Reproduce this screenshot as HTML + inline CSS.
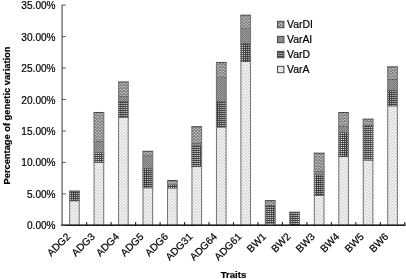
<!DOCTYPE html>
<html><head><meta charset="utf-8"><title>Chart</title>
<style>
html,body{margin:0;padding:0;background:#fff;}
svg{display:block;font-family:"Liberation Sans",sans-serif;}
.t{fill:#000;stroke:#000;stroke-width:0.2px;}
</style></head><body>
<svg width="406" height="279" viewBox="0 0 406 279">
<defs>
<pattern id="pA" width="3.2" height="3" patternUnits="userSpaceOnUse"><rect width="3.2" height="3" fill="#d2d2d2"/><ellipse cx="0.8" cy="0.75" rx="1.05" ry="0.65" fill="#fff"/><ellipse cx="2.4" cy="2.25" rx="1.05" ry="0.65" fill="#fff"/></pattern>
<pattern id="pD" width="2.15" height="2" patternUnits="userSpaceOnUse"><rect width="2.15" height="2" fill="#383838"/><rect x="1.0" y="0.9" width="1.1" height="1.05" fill="#f2f2f2"/></pattern>
<pattern id="pAI" width="2" height="2" patternUnits="userSpaceOnUse"><rect width="2" height="2" fill="#9c9c9c"/><rect x="0" y="0" width="1" height="1" fill="#767676"/><rect x="1" y="1" width="1" height="1" fill="#787878"/></pattern>
<pattern id="pDI" width="3.2" height="3" patternUnits="userSpaceOnUse"><rect width="3.2" height="3" fill="#787878"/><ellipse cx="0.8" cy="0.75" rx="1.0" ry="0.62" fill="#dcdcdc"/><ellipse cx="2.4" cy="2.25" rx="1.0" ry="0.62" fill="#dcdcdc"/></pattern>
</defs>
<rect width="406" height="279" fill="#fff"/>

<rect x="69.14" y="200.75" width="10.6" height="24.56" fill="url(#pA)"/>
<rect x="69.14" y="200.25" width="10.6" height="1" fill="#444"/>
<rect x="69.14" y="191.11" width="10.6" height="9.64" fill="url(#pD)"/>
<rect x="69.14" y="190.61" width="10.6" height="1" fill="#444"/>
<rect x="69.14" y="190.61" width="1" height="34.69" fill="#747474"/>
<rect x="78.73" y="190.61" width="1" height="34.69" fill="#747474"/>
<rect x="93.61" y="162.31" width="10.6" height="62.99" fill="url(#pA)"/>
<rect x="93.61" y="161.81" width="10.6" height="1" fill="#444"/>
<rect x="93.61" y="152.55" width="10.6" height="9.76" fill="url(#pD)"/>
<rect x="93.61" y="152.05" width="10.6" height="1" fill="#444"/>
<rect x="93.61" y="141.21" width="10.6" height="11.34" fill="url(#pAI)"/>
<rect x="93.61" y="140.71" width="10.6" height="1" fill="#444"/>
<rect x="93.61" y="112.48" width="10.6" height="28.73" fill="url(#pDI)"/>
<rect x="93.61" y="111.98" width="10.6" height="1" fill="#444"/>
<rect x="93.61" y="111.98" width="1" height="113.32" fill="#747474"/>
<rect x="103.20" y="111.98" width="1" height="113.32" fill="#747474"/>
<rect x="118.08" y="117.27" width="10.6" height="108.03" fill="url(#pA)"/>
<rect x="118.08" y="116.77" width="10.6" height="1" fill="#444"/>
<rect x="118.08" y="101.52" width="10.6" height="15.75" fill="url(#pD)"/>
<rect x="118.08" y="101.02" width="10.6" height="1" fill="#444"/>
<rect x="118.08" y="96.48" width="10.6" height="5.04" fill="url(#pAI)"/>
<rect x="118.08" y="95.98" width="10.6" height="1" fill="#444"/>
<rect x="118.08" y="81.99" width="10.6" height="14.49" fill="url(#pDI)"/>
<rect x="118.08" y="81.49" width="10.6" height="1" fill="#444"/>
<rect x="118.08" y="81.49" width="1" height="143.81" fill="#747474"/>
<rect x="127.68" y="81.49" width="1" height="143.81" fill="#747474"/>
<rect x="142.54" y="187.83" width="10.6" height="37.47" fill="url(#pA)"/>
<rect x="142.54" y="187.33" width="10.6" height="1" fill="#444"/>
<rect x="142.54" y="168.30" width="10.6" height="19.53" fill="url(#pD)"/>
<rect x="142.54" y="167.80" width="10.6" height="1" fill="#444"/>
<rect x="142.54" y="155.70" width="10.6" height="12.60" fill="url(#pAI)"/>
<rect x="142.54" y="155.20" width="10.6" height="1" fill="#444"/>
<rect x="142.54" y="151.29" width="10.6" height="4.41" fill="url(#pDI)"/>
<rect x="142.54" y="150.79" width="10.6" height="1" fill="#444"/>
<rect x="142.54" y="150.79" width="1" height="74.51" fill="#747474"/>
<rect x="152.14" y="150.79" width="1" height="74.51" fill="#747474"/>
<rect x="167.01" y="188.02" width="10.6" height="37.28" fill="url(#pA)"/>
<rect x="167.01" y="187.52" width="10.6" height="1" fill="#444"/>
<rect x="167.01" y="184.68" width="10.6" height="3.34" fill="url(#pD)"/>
<rect x="167.01" y="184.18" width="10.6" height="1" fill="#444"/>
<rect x="167.01" y="180.52" width="10.6" height="4.16" fill="url(#pDI)"/>
<rect x="167.01" y="180.02" width="10.6" height="1" fill="#444"/>
<rect x="167.01" y="180.02" width="1" height="45.28" fill="#747474"/>
<rect x="176.61" y="180.02" width="1" height="45.28" fill="#747474"/>
<rect x="191.48" y="166.41" width="10.6" height="58.89" fill="url(#pA)"/>
<rect x="191.48" y="165.91" width="10.6" height="1" fill="#444"/>
<rect x="191.48" y="145.62" width="10.6" height="20.79" fill="url(#pD)"/>
<rect x="191.48" y="145.12" width="10.6" height="1" fill="#444"/>
<rect x="191.48" y="143.10" width="10.6" height="2.52" fill="url(#pAI)"/>
<rect x="191.48" y="142.60" width="10.6" height="1" fill="#444"/>
<rect x="191.48" y="126.72" width="10.6" height="16.38" fill="url(#pDI)"/>
<rect x="191.48" y="126.22" width="10.6" height="1" fill="#444"/>
<rect x="191.48" y="126.22" width="1" height="99.08" fill="#747474"/>
<rect x="201.08" y="126.22" width="1" height="99.08" fill="#747474"/>
<rect x="215.95" y="127.03" width="10.6" height="98.27" fill="url(#pA)"/>
<rect x="215.95" y="126.53" width="10.6" height="1" fill="#444"/>
<rect x="215.95" y="100.89" width="10.6" height="26.14" fill="url(#pD)"/>
<rect x="215.95" y="100.39" width="10.6" height="1" fill="#444"/>
<rect x="215.95" y="77.58" width="10.6" height="23.31" fill="url(#pAI)"/>
<rect x="215.95" y="77.08" width="10.6" height="1" fill="#444"/>
<rect x="215.95" y="62.46" width="10.6" height="15.12" fill="url(#pDI)"/>
<rect x="215.95" y="61.96" width="10.6" height="1" fill="#444"/>
<rect x="215.95" y="61.96" width="1" height="163.34" fill="#747474"/>
<rect x="225.55" y="61.96" width="1" height="163.34" fill="#747474"/>
<rect x="240.42" y="61.52" width="10.6" height="163.78" fill="url(#pA)"/>
<rect x="240.42" y="61.02" width="10.6" height="1" fill="#444"/>
<rect x="240.42" y="42.93" width="10.6" height="18.59" fill="url(#pD)"/>
<rect x="240.42" y="42.43" width="10.6" height="1" fill="#444"/>
<rect x="240.42" y="27.81" width="10.6" height="15.12" fill="url(#pAI)"/>
<rect x="240.42" y="27.31" width="10.6" height="1" fill="#444"/>
<rect x="240.42" y="15.21" width="10.6" height="12.60" fill="url(#pDI)"/>
<rect x="240.42" y="14.71" width="10.6" height="1" fill="#444"/>
<rect x="240.42" y="14.71" width="1" height="210.59" fill="#747474"/>
<rect x="250.02" y="14.71" width="1" height="210.59" fill="#747474"/>
<rect x="264.89" y="223.11" width="10.6" height="2.19" fill="url(#pA)"/>
<rect x="264.89" y="222.61" width="10.6" height="1" fill="#444"/>
<rect x="264.89" y="205.47" width="10.6" height="17.64" fill="url(#pD)"/>
<rect x="264.89" y="204.97" width="10.6" height="1" fill="#444"/>
<rect x="264.89" y="200.62" width="10.6" height="4.85" fill="url(#pDI)"/>
<rect x="264.89" y="200.12" width="10.6" height="1" fill="#444"/>
<rect x="264.89" y="200.12" width="1" height="25.18" fill="#747474"/>
<rect x="274.50" y="200.12" width="1" height="25.18" fill="#747474"/>
<rect x="289.36" y="212.21" width="10.6" height="13.09" fill="url(#pD)"/>
<rect x="289.36" y="211.71" width="10.6" height="1" fill="#444"/>
<rect x="289.36" y="211.71" width="1" height="13.59" fill="#747474"/>
<rect x="298.96" y="211.71" width="1" height="13.59" fill="#747474"/>
<rect x="313.83" y="195.39" width="10.6" height="29.91" fill="url(#pA)"/>
<rect x="313.83" y="194.89" width="10.6" height="1" fill="#444"/>
<rect x="313.83" y="174.60" width="10.6" height="20.79" fill="url(#pD)"/>
<rect x="313.83" y="174.10" width="10.6" height="1" fill="#444"/>
<rect x="313.83" y="171.45" width="10.6" height="3.15" fill="url(#pAI)"/>
<rect x="313.83" y="170.95" width="10.6" height="1" fill="#444"/>
<rect x="313.83" y="153.18" width="10.6" height="18.27" fill="url(#pDI)"/>
<rect x="313.83" y="152.68" width="10.6" height="1" fill="#444"/>
<rect x="313.83" y="152.68" width="1" height="72.62" fill="#747474"/>
<rect x="323.44" y="152.68" width="1" height="72.62" fill="#747474"/>
<rect x="338.30" y="156.52" width="10.6" height="68.78" fill="url(#pA)"/>
<rect x="338.30" y="156.02" width="10.6" height="1" fill="#444"/>
<rect x="338.30" y="132.39" width="10.6" height="24.13" fill="url(#pD)"/>
<rect x="338.30" y="131.89" width="10.6" height="1" fill="#444"/>
<rect x="338.30" y="126.09" width="10.6" height="6.30" fill="url(#pAI)"/>
<rect x="338.30" y="125.59" width="10.6" height="1" fill="#444"/>
<rect x="338.30" y="112.54" width="10.6" height="13.55" fill="url(#pDI)"/>
<rect x="338.30" y="112.04" width="10.6" height="1" fill="#444"/>
<rect x="338.30" y="112.04" width="1" height="113.26" fill="#747474"/>
<rect x="347.90" y="112.04" width="1" height="113.26" fill="#747474"/>
<rect x="362.77" y="160.11" width="10.6" height="65.19" fill="url(#pA)"/>
<rect x="362.77" y="159.61" width="10.6" height="1" fill="#444"/>
<rect x="362.77" y="125.46" width="10.6" height="34.65" fill="url(#pD)"/>
<rect x="362.77" y="124.96" width="10.6" height="1" fill="#444"/>
<rect x="362.77" y="119.16" width="10.6" height="6.30" fill="url(#pDI)"/>
<rect x="362.77" y="118.66" width="10.6" height="1" fill="#444"/>
<rect x="362.77" y="118.66" width="1" height="106.64" fill="#747474"/>
<rect x="372.38" y="118.66" width="1" height="106.64" fill="#747474"/>
<rect x="387.24" y="105.93" width="10.6" height="119.37" fill="url(#pA)"/>
<rect x="387.24" y="105.43" width="10.6" height="1" fill="#444"/>
<rect x="387.24" y="90.18" width="10.6" height="15.75" fill="url(#pD)"/>
<rect x="387.24" y="89.68" width="10.6" height="1" fill="#444"/>
<rect x="387.24" y="79.47" width="10.6" height="10.71" fill="url(#pAI)"/>
<rect x="387.24" y="78.97" width="10.6" height="1" fill="#444"/>
<rect x="387.24" y="66.87" width="10.6" height="12.60" fill="url(#pDI)"/>
<rect x="387.24" y="66.37" width="10.6" height="1" fill="#444"/>
<rect x="387.24" y="66.37" width="1" height="158.93" fill="#747474"/>
<rect x="396.84" y="66.37" width="1" height="158.93" fill="#747474"/>
<rect x="61.40" y="4.65" width="1.4" height="221.35" fill="#707070"/>
<rect x="61.40" y="224.40" width="343.98" height="1.6" fill="#1c1c1c"/>
<rect x="62.20" y="224.80" width="3.6" height="1" fill="#555"/>
<text x="55.6" y="229.30" font-size="10.1" text-anchor="end" class="t">0.00%</text>
<rect x="62.20" y="193.35" width="3.6" height="1" fill="#555"/>
<text x="55.6" y="197.85" font-size="10.1" text-anchor="end" class="t">5.00%</text>
<rect x="62.20" y="161.90" width="3.6" height="1" fill="#555"/>
<text x="55.6" y="166.40" font-size="10.1" text-anchor="end" class="t">10.00%</text>
<rect x="62.20" y="130.45" width="3.6" height="1" fill="#555"/>
<text x="55.6" y="134.95" font-size="10.1" text-anchor="end" class="t">15.00%</text>
<rect x="62.20" y="99.00" width="3.6" height="1" fill="#555"/>
<text x="55.6" y="103.50" font-size="10.1" text-anchor="end" class="t">20.00%</text>
<rect x="62.20" y="67.55" width="3.6" height="1" fill="#555"/>
<text x="55.6" y="72.05" font-size="10.1" text-anchor="end" class="t">25.00%</text>
<rect x="62.20" y="36.10" width="3.6" height="1" fill="#555"/>
<text x="55.6" y="40.60" font-size="10.1" text-anchor="end" class="t">30.00%</text>
<rect x="62.20" y="4.65" width="3.6" height="1" fill="#555"/>
<text x="55.6" y="9.15" font-size="10.1" text-anchor="end" class="t">35.00%</text>
<rect x="86.12" y="222.10" width="1.1" height="3.2" fill="#1c1c1c"/>
<rect x="110.59" y="222.10" width="1.1" height="3.2" fill="#1c1c1c"/>
<rect x="135.06" y="222.10" width="1.1" height="3.2" fill="#1c1c1c"/>
<rect x="159.53" y="222.10" width="1.1" height="3.2" fill="#1c1c1c"/>
<rect x="184.00" y="222.10" width="1.1" height="3.2" fill="#1c1c1c"/>
<rect x="208.47" y="222.10" width="1.1" height="3.2" fill="#1c1c1c"/>
<rect x="232.94" y="222.10" width="1.1" height="3.2" fill="#1c1c1c"/>
<rect x="257.41" y="222.10" width="1.1" height="3.2" fill="#1c1c1c"/>
<rect x="281.88" y="222.10" width="1.1" height="3.2" fill="#1c1c1c"/>
<rect x="306.35" y="222.10" width="1.1" height="3.2" fill="#1c1c1c"/>
<rect x="330.82" y="222.10" width="1.1" height="3.2" fill="#1c1c1c"/>
<rect x="355.29" y="222.10" width="1.1" height="3.2" fill="#1c1c1c"/>
<rect x="379.76" y="222.10" width="1.1" height="3.2" fill="#1c1c1c"/>
<rect x="404.23" y="222.10" width="1.1" height="3.2" fill="#1c1c1c"/>
<text transform="translate(70.94,237.30) rotate(-45)" font-size="10.2" text-anchor="end" class="t">ADG2</text>
<text transform="translate(95.41,237.30) rotate(-45)" font-size="10.2" text-anchor="end" class="t">ADG3</text>
<text transform="translate(119.88,237.30) rotate(-45)" font-size="10.2" text-anchor="end" class="t">ADG4</text>
<text transform="translate(144.34,237.30) rotate(-45)" font-size="10.2" text-anchor="end" class="t">ADG5</text>
<text transform="translate(168.81,237.30) rotate(-45)" font-size="10.2" text-anchor="end" class="t">ADG6</text>
<text transform="translate(193.28,237.30) rotate(-45)" font-size="10.2" text-anchor="end" class="t">ADG31</text>
<text transform="translate(217.75,237.30) rotate(-45)" font-size="10.2" text-anchor="end" class="t">ADG64</text>
<text transform="translate(242.22,237.30) rotate(-45)" font-size="10.2" text-anchor="end" class="t">ADG61</text>
<text transform="translate(266.69,237.30) rotate(-45)" font-size="10.2" text-anchor="end" class="t">BW1</text>
<text transform="translate(291.16,237.30) rotate(-45)" font-size="10.2" text-anchor="end" class="t">BW2</text>
<text transform="translate(315.63,237.30) rotate(-45)" font-size="10.2" text-anchor="end" class="t">BW3</text>
<text transform="translate(340.10,237.30) rotate(-45)" font-size="10.2" text-anchor="end" class="t">BW4</text>
<text transform="translate(364.57,237.30) rotate(-45)" font-size="10.2" text-anchor="end" class="t">BW5</text>
<text transform="translate(389.04,237.30) rotate(-45)" font-size="10.2" text-anchor="end" class="t">BW6</text>
<text transform="translate(10,115.5) rotate(-90)" font-size="9.3" font-weight="bold" text-anchor="middle" class="t">Percentage of genetic variation</text>
<text x="233.5" y="278" font-size="9.6" font-weight="bold" text-anchor="middle" class="t">Traits</text>
<rect x="277.5" y="21.3" width="6.4" height="6.4" fill="url(#pDI)" stroke="#444" stroke-width="1"/>
<text x="287" y="28.2" font-size="10.4" class="t">VarDI</text>
<rect x="277.5" y="36.3" width="6.4" height="6.4" fill="url(#pAI)" stroke="#444" stroke-width="1"/>
<text x="287" y="43.2" font-size="10.4" class="t">VarAI</text>
<rect x="277.5" y="51.3" width="6.4" height="6.4" fill="url(#pD)" stroke="#444" stroke-width="1"/>
<text x="287" y="58.2" font-size="10.4" class="t">VarD</text>
<rect x="277.5" y="66.3" width="6.4" height="6.4" fill="url(#pA)" stroke="#444" stroke-width="1"/>
<text x="287" y="73.2" font-size="10.4" class="t">VarA</text>
</svg></body></html>
